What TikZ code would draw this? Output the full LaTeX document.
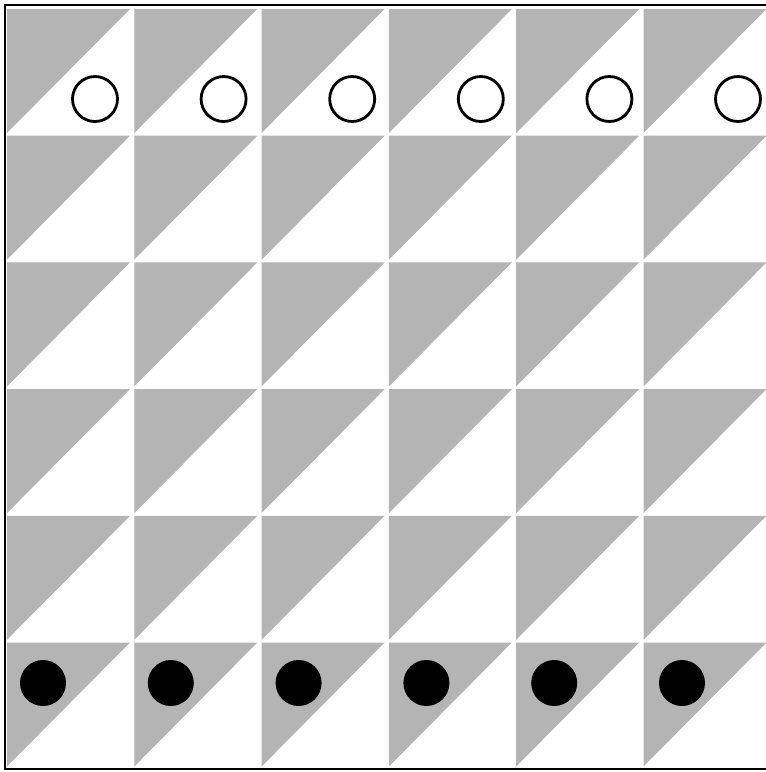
\documentclass[tikz,border=0pt]{standalone}
\usepackage{xcolor}
\usepackage{tikz}
\usetikzlibrary{positioning}
\definecolor{boardgray}{RGB}{180,180,180}

\begin{document}
\begin{tikzpicture}[
  x=0.02cm, y=-0.02cm,
  half/.style={fill=boardgray},
  frame/.style={draw, line width=1.4pt},
  whitepc/.style={circle, draw, line width=1.6pt, fill=white, minimum size=0.9cm, inner sep=0pt},
  blackpc/.style={circle, fill=black, minimum size=0.92cm, inner sep=0pt}]
  \useasboundingbox (0,0) rectangle (766,772);
  % squares, each cut along its diagonal
  \foreach \i in {0,...,5} {
    \foreach \j in {0,...,5} {
      \fill[half] ({7+127.3*\i},{9+126.7*\j}) -- ++(123,0) -- ++(-123,124) -- cycle;
    }
  }
  \draw[frame] (766,5) -- (5,5) -- (5,769) -- (766,769);
  % pieces
  \foreach \k in {1,...,6} {
    \node[whitepc] (w\k) at ({95+128.6*(\k-1)},99) {};
    \node[blackpc] (b\k) at ({43+127.8*(\k-1)},683) {};
  }
\end{tikzpicture}
\end{document}
